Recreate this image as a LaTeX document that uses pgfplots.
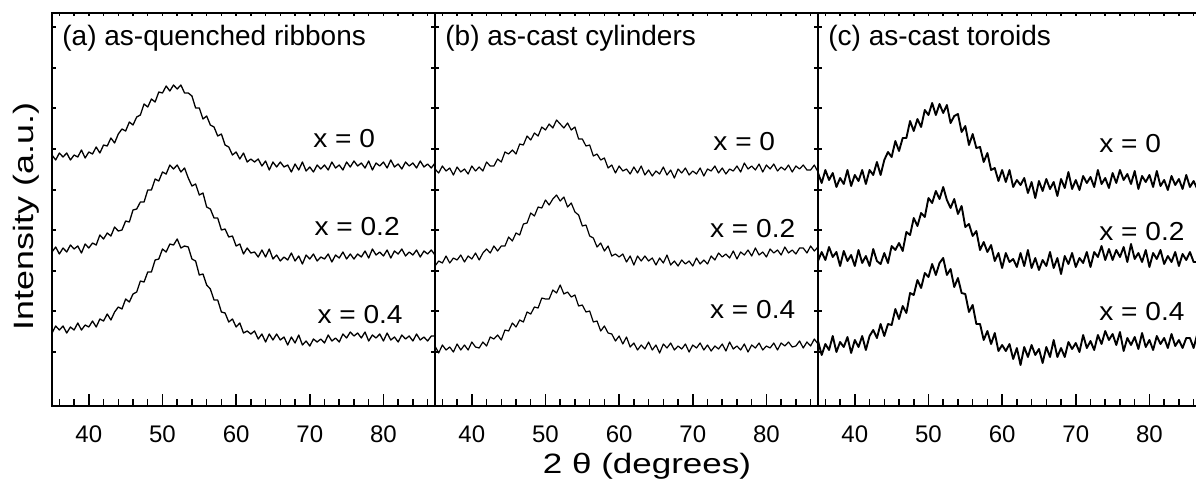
\documentclass[border=0pt]{standalone}
\usepackage{pgfplots}
\pgfplotsset{compat=1.18}
\usepackage{pgfplotstable}
\usepackage{graphicx}
\usepackage{fontspec}
\setmainfont{Liberation Sans}

\pgfplotstableread{
x y0 y2 y4
35 251 154 73
35.5 246 159 80
36 253 152 76
36.5 249 158 80
37 253 154 73
37.5 246 161 79
38 251 157 76
38.5 249 160 83
39 256 153 76
39.5 248 162 81
40 254 158 79
40.5 252 163 85
41 259 161 79
41.5 253 171 87
42 261 167 85
42.5 260 173 92
43 268 170 86
43.5 263 179 94
44 272 175 99
44.5 277 176 97
45 275 185 107
45.5 284 184 104
46 281 196 112
46.5 289 197 114
47 291 204 125
47.5 302 204 124
48 299 216 134
48.5 307 216 134
49 304 227 146
49.5 314 225 147
50 313 234 157
50.5 320 232 154
51 315 241 162
51.5 321 237 161
52 317 241 167
52.5 321 234 158
53 313 238 160
53.5 313 228 159
54 310 220 147
54.5 298 222 145
55 298 211 131
55.5 287 213 132
56 290 199 121
56.5 281 197 117
57 279 188 106
57.5 270 188 106
58 272 176 94
58.5 261 177 93
59 259 169 84
59.5 251 170 87
60 254 160 79
60.5 247 162 83
61 253 152 73
61.5 244 158 75
62 247 153 72
62.5 244 154 75
63 247 149 67
63.5 240 156 72
64 245 149 64
64.5 236 157 72
65 244 147 66
65.5 239 151 72
66 244 145 66
66.5 239 149 69
67 241 146 61
67.5 234 153 69
68 242 145 63
68.5 236 150 71
69 244 142 61
69.5 235 151 65
70 239 147 60
70.5 234 152 67
71 241 145 64
71.5 237 149 67
72 241 147 63
72.5 236 152 71
73 244 144 65
73.5 238 151 68
74 241 148 64
74.5 236 154 72
75 244 147 68
75.5 239 152 74
76 245 147 70
76.5 240 152 73
77 243 149 68
77.5 238 155 74
78 245 148 65
78.5 236 157 71
79 243 151 68
79.5 240 154 72
80 244 150 65
80.5 238 156 73
81 246 148 66
81.5 239 155 69
82 242 152 64
82.5 237 157 71
83 244 150 67
83.5 240 154 70
84 243 151 65
84.5 238 156 72
85 245 149 66
85.5 239 155 69
86 242 152 65
86.5 238 156 70
87 243 151 70
}\tabA

\pgfplotstableread{
x y0 y2 y4
35 237 140 60
35.5 233 145 53
36 240 143 61
36.5 235 150 56
37 238 143 59
37.5 231 148 54
38 239 146 62
38.5 234 151 56
39 237 144 61
39.5 232 150 56
40 240 147 64
40.5 235 153 59
41 239 146 58
41.5 235 153 64
42 244 157 60
42.5 240 153 69
43 240 160 67
43.5 247 155 71
44 244 160 66
44.5 254 160 76
45 252 169 75
45.5 256 165 83
46 252 173 79
46.5 262 171 86
47 261 182 84
47.5 270 183 94
48 266 193 92
48.5 273 190 99
49 270 199 98
49.5 279 198 108
50 276 206 107
50.5 282 201 107
51 278 207 116
51.5 286 211 113
52 282 205 121
52.5 278 209 112
53 283 199 114
53.5 276 203 109
54 279 194 111
54.5 267 191 100
55 267 180 101
55.5 260 181 94
56 261 170 95
56.5 250 168 84
57 252 159 85
57.5 246 163 75
58 248 155 80
58.5 238 160 73
59 241 150 72
59.5 233 152 65
60 240 149 70
60.5 235 152 62
61 237 144 69
61.5 232 150 59
62 239 141 63
62.5 233 150 56
63 240 145 61
63.5 231 150 57
64 236 145 64
64.5 230 148 56
65 235 141 61
65.5 232 148 53
66 239 143 62
66.5 231 151 58
67 236 141 63
67.5 228 145 56
68 237 140 60
68.5 233 146 57
69 238 142 62
69.5 231 145 54
70 235 140 61
70.5 232 148 58
71 238 142 63
71.5 230 146 56
72 237 142 61
72.5 235 150 55
73 240 146 60
73.5 233 153 57
74 238 149 62
74.5 232 152 55
75 237 148 64
75.5 235 155 57
76 240 147 60
76.5 234 154 56
77 243 151 62
77.5 237 156 54
78 240 150 61
78.5 236 158 58
79 242 151 63
79.5 234 154 56
80 241 149 60
80.5 237 157 58
81 242 153 63
81.5 235 156 56
82 239 151 63
82.5 236 159 60
83 241 153 64
83.5 234 156 59
84 240 152 60
84.5 237 158 65
85 241 158 58
85.5 236 153 64
86 236 160 60
86.5 241 155 67
87 234 159 62
}\tabB

\pgfplotstableread{
x y0 y2 y4
35 233 145 65
35.5 223 154 51
36 236 146 62
36.5 226 159 56
37 233 149 70
37.5 219 154 54
38 228 140 64
38.5 222 155 59
39 236 145 69
39.5 220 151 53
40 231 140 66
40.5 225 156 59
41 236 143 70
41.5 222 150 56
42 236 140 70
42.5 231 157 76
43 244 145 68
43.5 231 142 82
44 246 153 70
44.5 254 143 82
45 249 160 81
45.5 265 156 97
46 255 163 87
46.5 268 155 100
47 268 174 93
47.5 285 171 113
48 275 188 111
48.5 287 180 126
49 279 193 118
49.5 296 189 133
50 291 208 129
50.5 303 203 142
51 291 215 131
51.5 302 207 143
52 293 219 148
52.5 301 206 131
53 283 198 137
53.5 290 207 119
54 292 192 128
54.5 274 200 113
55 280 179 112
55.5 261 182 94
56 272 170 101
56.5 258 175 82
57 259 156 82
57.5 244 164 66
58 253 154 75
58.5 236 161 62
59 238 145 73
59.5 225 153 55
60 236 138 61
60.5 224 153 55
61 236 144 62
61.5 219 147 47
62 226 139 58
62.5 221 153 41
63 228 140 59
63.5 213 156 49
64 224 138 61
64.5 208 148 51
65 225 136 57
65.5 215 146 43
66 227 140 59
66.5 217 154 49
67 224 138 66
67.5 210 148 49
68 227 132 58
68.5 218 150 49
69 234 142 64
69.5 217 153 57
70 226 139 63
70.5 216 148 54
71 230 143 71
71.5 223 154 58
72 229 139 65
72.5 219 154 56
73 236 149 71
73.5 222 160 62
74 228 146 75
74.5 218 157 66
75 233 146 72
75.5 223 156 61
76 236 149 74
76.5 226 159 55
77 232 144 68
77.5 222 162 61
78 235 147 69
78.5 217 153 57
79 230 144 73
79.5 224 156 59
80 231 139 66
80.5 219 153 56
81 235 147 70
81.5 220 156 62
82 226 142 68
82.5 216 150 58
83 230 144 72
83.5 221 154 60
84 227 140 66
84.5 217 152 58
85 231 146 68
85.5 219 154 68
86 225 144 58
86.5 217 144 72
87 227 154 62
}\tabC

\newcommand{\tfont}{\fontsize{14}{14}\selectfont}
\newcommand{\lfont}{\fontsize{13}{13}\selectfont}
\newcommand{\lab}[1]{\scalebox{1.08}[1]{\lfont #1}}

\pgfplotsset{
  panel/.style={
    scale only axis, width=191.5pt, height=196.5pt,
    xmin=35, xmax=87, ymin=0, ymax=393,
    xtick={40,50,...,80}, minor xtick={36,38,...,86},
    xtick pos=bottom, ytick pos=both,
    tick align=inside,
    major tick length=6pt, minor tick length=3.5pt,
    ytick=\empty,
    extra y ticks={54,95,135,176,216,257,298,338,379},
    extra y tick labels={},
    extra y tick style={major tick length=2pt},
    extra x ticks={36,38,...,86},
    extra x tick labels={},
    extra x tick style={major tick length=1.5pt, xtick pos=top},
    axis line style={line width=1pt},
    every tick/.style={black, line width=0.75pt},
    /pgf/number format/assume math mode=true,
    xticklabel style={font=\fontsize{12}{12}\selectfont, anchor=base, yshift=-18pt, inner sep=0pt},
    anchor=south west,
  },
}

\begin{document}
\begin{tikzpicture}
\begin{axis}[panel, at={(0pt,0pt)}]
\addplot[black, line width=0.65pt, line join=round] table[x=x, y=y0] {\tabA};
\addplot[black, line width=0.65pt, line join=round] table[x=x, y=y2] {\tabA};
\addplot[black, line width=0.65pt, line join=round] table[x=x, y=y4] {\tabA};
\node[anchor=base west, inner sep=0pt] at (axis cs:36.36,361) {\tfont (a) as-quenched ribbons};
\node[anchor=base west, inner sep=0pt] at (axis cs:70.44,259) {\lab{x = 0}};
\node[anchor=base west, inner sep=0pt] at (axis cs:70.6,171) {\lab{x = 0.2}};
\node[anchor=base west, inner sep=0pt] at (axis cs:71.0,83) {\lab{x = 0.4}};
\end{axis}
\begin{axis}[panel, at={(191.5pt,0pt)}]
\addplot[black, line width=0.6pt, line join=round] table[x=x, y=y0] {\tabB};
\addplot[black, line width=0.6pt, line join=round] table[x=x, y=y2] {\tabB};
\addplot[black, line width=0.6pt, line join=round] table[x=x, y=y4] {\tabB};
\node[anchor=base west, inner sep=0pt] at (axis cs:36.36,361) {\tfont (b) as-cast cylinders};
\node[anchor=base west, inner sep=0pt] at (axis cs:72.75,256) {\lab{x = 0}};
\node[anchor=base west, inner sep=0pt] at (axis cs:72.3,169) {\lab{x = 0.2}};
\node[anchor=base west, inner sep=0pt] at (axis cs:72.3,88) {\lab{x = 0.4}};
\end{axis}
\begin{axis}[panel, at={(383pt,0pt)}]
\addplot[black, line width=0.95pt, line join=round] table[x=x, y=y0] {\tabC};
\addplot[black, line width=0.95pt, line join=round] table[x=x, y=y2] {\tabC};
\addplot[black, line width=0.95pt, line join=round] table[x=x, y=y4] {\tabC};
\node[anchor=base west, inner sep=0pt] at (axis cs:36.36,361) {\tfont (c) as-cast toroids};
\node[anchor=base west, inner sep=0pt] at (axis cs:73.15,254) {\lab{x = 0}};
\node[anchor=base west, inner sep=0pt] at (axis cs:73.15,166) {\lab{x = 0.2}};
\node[anchor=base west, inner sep=0pt] at (axis cs:73.15,86) {\lab{x = 0.4}};
\end{axis}
\node[rotate=90, anchor=base, inner sep=0pt] at (-9.5pt,94.75pt) {\tfont\scalebox{1.28}[1]{Intensity (a.u.)}};
\node[anchor=base, inner sep=0pt] at (297.5pt,-33.5pt) {\tfont\scalebox{1.25}[1]{2 θ (degrees)}};
\pgfresetboundingbox
\path[use as bounding box] (-26pt,-36.5pt) rectangle (572pt,203pt);
\end{tikzpicture}
\end{document}
